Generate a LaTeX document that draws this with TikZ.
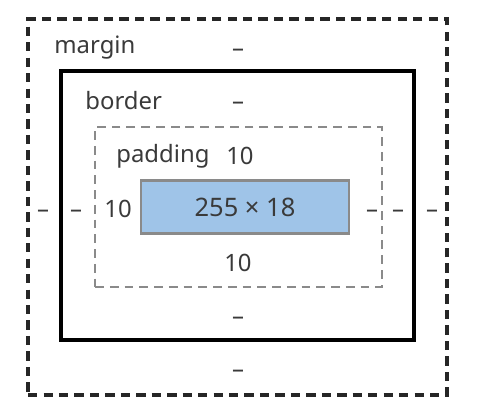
\documentclass[tikz,border=0pt]{standalone}
\usepackage{fontspec}
\setmainfont{Noto Sans}
\usepackage{tikz}
\usetikzlibrary{positioning}
\definecolor{labelc}{HTML}{3A3A3A}
\definecolor{contentc}{HTML}{9FC4E8}
\definecolor{paddingc}{HTML}{8A8A8A}
\tikzset{
  boxnode/.style={rectangle, inner sep=0pt, fill=none},
  marginbox/.style={boxnode, draw=black!85, line width=2pt,
    dash pattern=on 5.3pt off 3.5pt, minimum width=8.38cm, minimum height=7.52cm},
  borderbox/.style={boxnode, draw=black, line width=1.9pt,
    minimum width=7.06cm, minimum height=5.38cm},
  paddingbox/.style={boxnode, draw=paddingc, line width=1.4pt,
    dash pattern=on 5pt off 3.4pt, minimum width=5.74cm, minimum height=3.2cm},
  contentbox/.style={boxnode, draw=paddingc, fill=contentc, line width=1.3pt,
    minimum width=4.16cm, minimum height=1.06cm, text=labelc, font=\fontsize{14.5}{16}\selectfont},
  labelnode/.style={inner sep=0pt, text=labelc, font=\fontsize{13.6}{15}\selectfont},
  dashnode/.style={labelnode, yshift=-3.5pt},
}

\begin{document}
\begin{tikzpicture}[x=0.02cm, y=-0.02cm]
  \useasboundingbox (0,0) rectangle (488,408);
  \node[marginbox] (margin) at (237.5,207) {};
  \node[borderbox] (border) at (237.5,205.5) {};
  \node[paddingbox] (padding) at (238.5,207) {};
  \node[contentbox] (content) at (245,207) {255 × 18};
  % labels
  \node[labelnode, anchor=west] (mlabel) at (54,48) {margin};
  \node[dashnode] (mtop) at (238,47) {–};
  \node[labelnode, anchor=west] (blabel) at (85,101) {border};
  \node[dashnode] (btop) at (238,100) {–};
  \node[labelnode, anchor=west] (plabel) at (116,156) {padding};
  \node[labelnode] (ptop) at (240,156) {10};
  \node[labelnode] (pleft) at (118,209) {10};
  \node[dashnode] (pright) at (372,208) {–};
  \node[dashnode] (bleft) at (76,208) {–};
  \node[dashnode] (bright) at (398,208) {–};
  \node[dashnode] (mleft) at (43,208) {–};
  \node[dashnode] (mright) at (432,208) {–};
  \node[labelnode] (pbottom) at (238,263) {10};
  \node[dashnode] (bbottom) at (238,315) {–};
  \node[dashnode] (mbottom) at (238,368) {–};
\end{tikzpicture}
\end{document}
